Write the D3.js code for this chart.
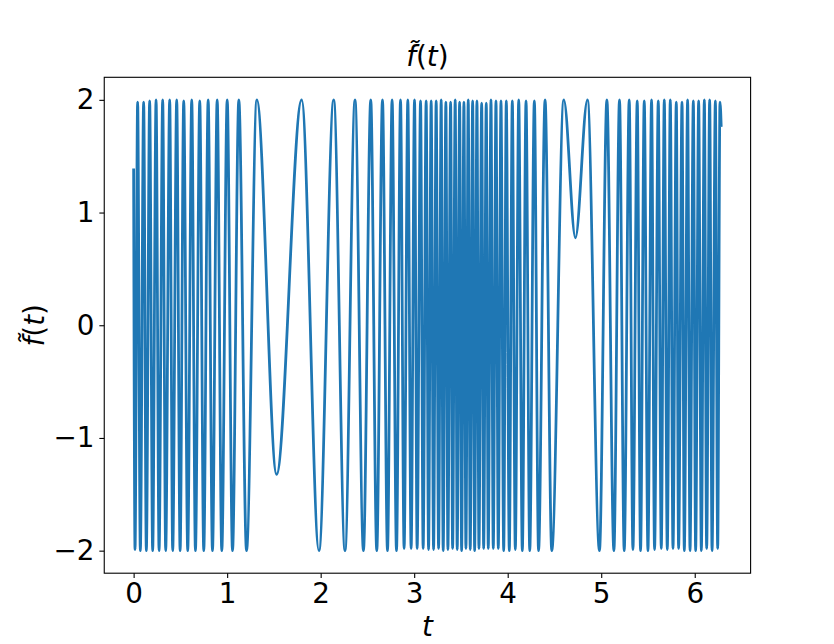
<!DOCTYPE html>
<html>
<head>
<meta charset="utf-8">
<script src="https://cdn.jsdelivr.net/npm/d3@7"></script>
<style>
  html, body { margin: 0; padding: 0; background: #fff; }
  svg { display: block; font-family: "DejaVu Sans", sans-serif; }
</style>
</head>
<body>
<svg id="chart" width="834" height="644"></svg>
<script>
const tValues = [
  0.0000, 0.0150, 0.0428, 0.0718, 0.1071, 0.1360, 0.1714, 0.2035, 0.2400, 0.2721,
  0.3107, 0.3428, 0.3856, 0.4178, 0.4606, 0.4971, 0.5356, 0.5785, 0.6213, 0.6610,
  0.7070, 0.7499, 0.7970, 0.8431, 0.8934, 0.9427, 1.0005, 1.0573, 1.1248, 1.2073,
  1.3176, 1.5287, 1.7965, 1.9818, 2.1393, 2.2603, 2.3674, 2.4574, 2.5356, 2.5999,
  2.6610, 2.7145, 2.7638, 2.8109, 2.8538, 2.8923, 2.9320, 2.9673, 3.0037, 3.0316,
  3.0680, 3.0959, 3.1280, 3.1537, 3.1816, 3.2073, 3.2351, 3.2609, 3.2887, 3.3101,
  3.3390, 3.3605, 3.3894, 3.4108, 3.4387, 3.4601, 3.4858, 3.5073, 3.5319, 3.5533,
  3.5780, 3.5994, 3.6251, 3.6465, 3.6711, 3.6926, 3.7215, 3.7429, 3.7708, 3.7922,
  3.8211, 3.8457, 3.8747, 3.8993, 3.9282, 3.9571, 3.9850, 4.0171, 4.0493, 4.0814,
  4.1178, 4.1564, 4.1960, 4.2357, 4.2850, 4.3299, 4.3996, 4.4713, 4.5999, 4.7242,
  4.8527, 4.9813, 5.0606, 5.1355, 5.1955, 5.2459, 5.2994, 5.3391, 5.3851, 5.4205,
  5.4601, 5.4997, 5.5383, 5.5704, 5.6101, 5.6422, 5.6744, 5.7065, 5.7386, 5.7675,
  5.8029, 5.8275, 5.8640, 5.8886, 5.9239, 5.9496, 5.9850, 6.0096, 6.0418, 6.0707,
  6.1028, 6.1275, 6.1596, 6.1853, 6.2207, 6.2453, 6.2700, 6.2832
];
const fValues = [
  1.39, -1.99, 1.98, -2.00, 1.98, -2.00, 1.99, -2.00, 2.00, -2.00,
  2.00, -2.00, 2.00, -2.00, 2.00, -2.00, 1.99, -2.00, 2.00, -2.00,
  1.99, -2.00, 2.00, -2.00, 2.00, -2.00, 2.00, -2.00, 2.00, -2.00,
  2.00, -1.324, 2.00, -2.00, 2.00, -2.00, 2.00, -2.00, 2.00, -2.00,
  2.00, -2.00, 2.00, -2.00, 2.00, -1.98, 2.00, -1.98, 2.00, -1.98,
  1.99, -1.98, 1.99, -1.99, 1.99, -1.99, 1.99, -1.98, 2.00, -2.00,
  1.98, -1.99, 1.98, -1.98, 2.00, -1.99, 1.98, -2.00, 1.98, -1.98,
  2.00, -1.99, 1.99, -2.00, 1.99, -1.98, 1.97, -1.98, 1.97, -1.98,
  2.00, -1.98, 1.99, -1.98, 1.99, -2.00, 1.99, -2.00, 1.99, -1.99,
  2.00, -2.00, 1.99, -2.00, 1.99, -2.00, 2.00, -2.00, 2.00, 0.776,
  2.00, -2.00, 2.00, -2.00, 2.00, -2.00, 2.00, -1.99, 1.99, -2.00,
  1.99, -2.00, 2.00, -1.99, 1.99, -1.98, 2.00, -1.99, 2.00, -1.98,
  1.98, -1.98, 1.98, -2.00, 2.00, -2.00, 1.99, -2.00, 1.99, -2.00,
  2.00, -1.98, 2.00, -2.00, 1.99, -1.98, 1.98, 1.76
];
const xTicks = [0, 1, 2, 3, 4, 5, 6];
const yTicks = [-2, -1, 0, 1, 2];
// math label pieces: [text, italic?]
const fLabelParts = [["f\u0303", true], ["(", false], ["t", true], [")", false]];
const tLabelParts = [["t", true]];

const W = 834, H = 644;
const plot = { left: 104.25, right: 750.6, top: 77.3, bottom: 573.2 };
const tickFont = 27.8, tickLen = 4.9, tickPad = 4.9;
const color = "#1f77b4";

const svg = d3.select("#chart");
svg.append("rect").attr("width", W).attr("height", H).attr("fill", "#fff");

const tMax = d3.max(tValues), tMin = d3.min(tValues);
const tPad = (tMax - tMin) * 0.05;
const x = d3.scaleLinear().domain([tMin - tPad, tMax + tPad]).range([plot.left, plot.right]);
const y = d3.scaleLinear().domain([-2.2, 2.2]).range([plot.bottom, plot.top]);

const data = tValues.map((t, i) => ({ t, v: fValues[i] }));

const clipId = "plotclip";
svg.append("clipPath").attr("id", clipId).append("rect")
  .attr("x", plot.left).attr("y", plot.top)
  .attr("width", plot.right - plot.left).attr("height", plot.bottom - plot.top);

const line = d3.line().x(d => x(d.t)).y(d => y(d.v)).curve(d3.curveMonotoneX);
svg.append("path").datum(data)
  .attr("d", line)
  .attr("fill", "none")
  .attr("stroke", color)
  .attr("stroke-width", 2.78)
  .attr("stroke-linejoin", "round")
  .attr("stroke-linecap", "butt")
  .attr("clip-path", `url(#${clipId})`);

const fmt = d => (d < 0 ? "\u2212" + Math.abs(d) : String(d));

const xAxis = svg.append("g").attr("transform", `translate(0,${plot.bottom})`)
  .call(d3.axisBottom(x).tickValues(xTicks).tickFormat(fmt).tickSize(tickLen).tickPadding(tickPad));
const yAxis = svg.append("g").attr("transform", `translate(${plot.left},0)`)
  .call(d3.axisLeft(y).tickValues(yTicks).tickFormat(fmt).tickSize(tickLen).tickPadding(tickPad));

[xAxis, yAxis].forEach(g => {
  g.select(".domain").remove();
  g.selectAll(".tick line").attr("stroke", "#000").attr("stroke-width", 1.1);
  g.selectAll(".tick text").attr("fill", "#000")
    .style("font-family", "DejaVu Sans").style("font-size", tickFont + "px");
});

// frame
svg.append("rect")
  .attr("x", plot.left).attr("y", plot.top)
  .attr("width", plot.right - plot.left).attr("height", plot.bottom - plot.top)
  .attr("fill", "none").attr("stroke", "#000").attr("stroke-width", 1.1);

function mathText(sel, parts) {
  sel.selectAll("tspan").data(parts).join("tspan")
    .style("font-style", d => d[1] ? "italic" : "normal")
    .text(d => d[0]);
  return sel;
}

const cx = (plot.left + plot.right) / 2;
mathText(svg.append("text").attr("x", cx).attr("y", 66)
  .attr("text-anchor", "middle").style("font-size", "27.8px"), fLabelParts);

mathText(svg.append("text").attr("x", cx).attr("y", 636)
  .attr("text-anchor", "middle").style("font-size", "27.8px"), tLabelParts);

mathText(svg.append("text")
  .attr("transform", `translate(44,${(plot.top + plot.bottom) / 2}) rotate(-90)`)
  .attr("text-anchor", "middle").style("font-size", "27.8px"), fLabelParts);
</script>
</body>
</html>
